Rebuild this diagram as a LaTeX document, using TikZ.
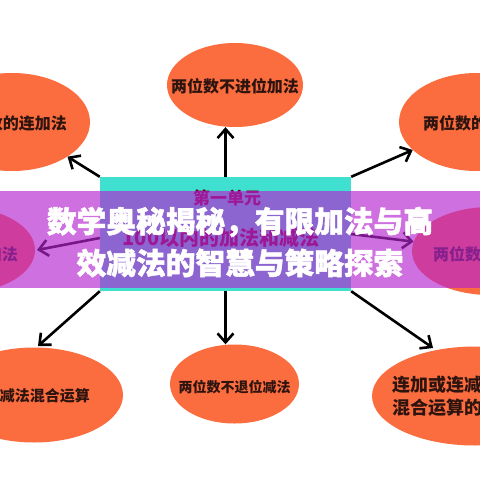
\documentclass[tikz,border=0pt]{standalone}
\usepackage{fontspec}
\newfontfamily\cjk{Noto Sans CJK SC}
\newfontfamily\cjkheavy{Noto Sans CJK SC}[UprightFeatures={FakeBold=1.6},BoldFeatures={FakeBold=1.6}]
\usetikzlibrary{shapes.geometric,arrows.meta}
\definecolor{orangeE}{RGB}{251,108,62}
\definecolor{tealR}{RGB}{64,224,208}
\definecolor{bandC}{RGB}{183,37,208}
\definecolor{txtD}{RGB}{45,20,15}
\definecolor{unitC}{RGB}{110,0,40}
\begin{document}
\begin{tikzpicture}[x=1pt,y=-1pt,
  oval/.style={ellipse, fill=orangeE, inner sep=0pt},
  etext/.style={font=\cjk\bfseries\fontsize{16}{18}\selectfont, text=txtD, inner sep=0pt},
  arr/.style={line width=2.6pt, -{Straight Barb[length=9pt,width=16pt]}},
  ttl/.style={font=\cjkheavy\bfseries\fontsize{29.7}{32}\selectfont, text=white, inner sep=0pt}]
\useasboundingbox (0,0) rectangle (480,480);
\clip (0,0) rectangle (480,480);
\fill[white] (0,0) rectangle (480,480);

% ellipses
\node[oval, minimum width=136pt, minimum height=84pt] (top) at (235,85) {};
\node[etext] (topT) at (235,86) {两位数不进位加法};
\node[oval, minimum width=156pt, minimum height=98pt] (tl) at (12,122) {};
\node[etext, anchor=east] (tlT) at (67,123) {两位数的连加法};
\node[oval, minimum width=156pt, minimum height=98pt] (tr) at (477,122) {};
\node[etext, anchor=west] (trT) at (423,123) {两位数的连减法};
\node[oval, minimum width=150pt, minimum height=86pt] (ml) at (-40,250) {};
\node[etext, anchor=east] (mlT) at (18,254) {两位数的加法};
\node[oval, minimum width=156pt, minimum height=88pt] (mr) at (490,251) {};
\node[etext, anchor=west] (mrT) at (433,254) {两位数的减法};
\node[oval, minimum width=178pt, minimum height=95pt] (bl) at (34,395) {};
\node[etext, anchor=east, font=\cjk\bfseries\fontsize{15}{17}\selectfont] (blT) at (90,396) {加减法混合运算};
\node[oval, minimum width=129pt, minimum height=79pt] (bot) at (234.5,384) {};
\node[etext, font=\cjk\bfseries\fontsize{14}{16}\selectfont] (botT) at (234.5,387) {两位数不退位减法};
\node[oval, minimum width=206pt, minimum height=99pt] (br) at (475,396) {};
\node[etext, anchor=west, font=\cjk\bfseries\fontsize{18}{23}\selectfont, align=left] (brT) at (392,396) {连加或连减\\混合运算的};

% central unit box
\node[fill=tealR, minimum width=251pt, minimum height=114pt, inner sep=0pt] (unit) at (225.5,234) {};
\node[font=\cjk\bfseries\fontsize{17}{19}\selectfont, text=unitC, inner sep=0pt] (unitA) at (227,198) {第一单元};
\node[font=\cjk\bfseries\fontsize{20}{22}\selectfont, text=unitC, inner sep=0pt] (unitB) at (221,238) {100以内的加法和减法};

% arrows
\coordinate (mlTip) at (37,250);
\coordinate (blTip) at (38,346);
\coordinate (brTip) at (433,348);
\draw[arr] (unit.north) -- (unit.north |- top.south);
\draw[arr] (unit.south) -- (unit.south |- bot.north);
\draw[arr] (unit.north west) -- (tl);
\draw[arr] (unit.north east) -- (tr);
\draw[arr] (unit.west) ++(0,4) -- (mlTip);
\draw[arr] (unit.east) -- (mr);
\draw[arr] (unit.south west) -- (blTip);
\draw[arr] (unit.south east) -- (brTip);

% purple banner
\fill[bandC, opacity=0.655] (0,191) rectangle (480,288);
\node[ttl] (t1) at (240,222) {数学奥秘揭秘，有限加法与高};
\node[ttl] (t2) at (240,263) {效减法的智慧与策略探索};
\end{tikzpicture}
\end{document}
